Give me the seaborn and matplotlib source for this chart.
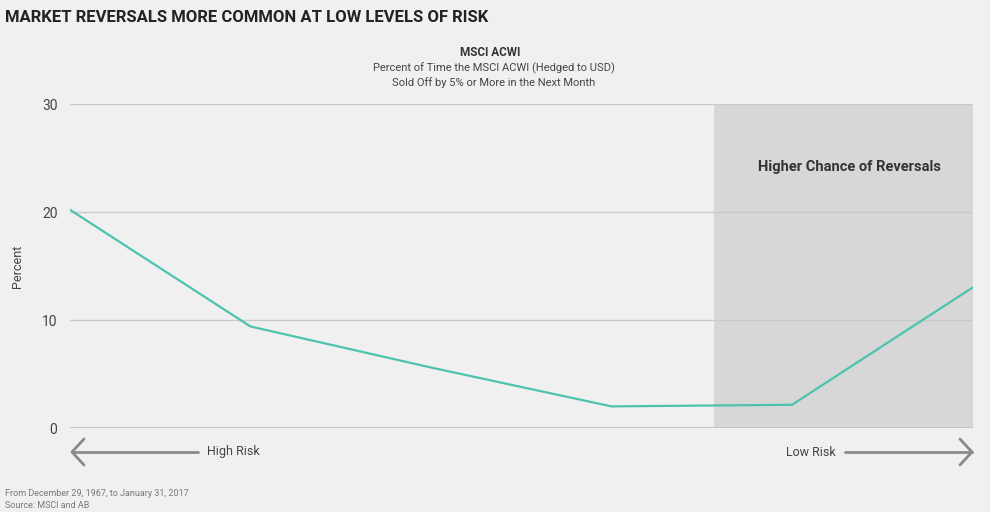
import pandas as pd
import seaborn as sns
import matplotlib.pyplot as plt

# values
steps = [0, 1, 2, 3, 4, 5]
pct_sold_off = [20.2, 9.4, 5.6, 2.0, 2.15, 13.0]
y_ticks = [0, 10, 20, 30]
shade_from = 3.57

data = pd.DataFrame({'step': steps, 'pct': pct_sold_off})

sns.set_theme(style='white')
plt.rcParams['font.family'] = ['Roboto', 'DejaVu Sans']

bg = '#f0f0f0'
fig = plt.figure(figsize=(9.9, 5.12), dpi=100, facecolor=bg)
ax = fig.add_axes([70/990, 1-428/512, (972.5-70)/990, (428-104)/512])
ax.set_facecolor(bg)

ax.axvspan(shade_from, 5, color='#d7d7d7', zorder=0, lw=0)
for v in y_ticks[1:]:
    ax.axhline(v, color='#cacaca', lw=1, zorder=1)
ax.axhline(0, color='#c6c6c6', lw=2.2, zorder=1)

sns.lineplot(x='step', y='pct', data=data, color='#4cc3ae', lw=1.6, ax=ax, zorder=3)

ax.set_xlim(0, 5)
ax.set_ylim(0, 30)
ax.set_xticks([])
ax.set_yticks(y_ticks)
ax.set_yticklabels([str(v) for v in y_ticks], fontsize=10, color='#444444')
ax.tick_params(axis='y', length=0, pad=9)
ax.set_xlabel('')
ax.set_ylabel('Percent', fontsize=9, color='#444444', labelpad=13)
for s in ax.spines.values():
    s.set_visible(False)

ax.text(4.32, 24.2, 'Higher Chance of Reversals', ha='center', va='center',
        fontsize=10.5, fontweight='bold', color='#333333')

# risk arrows under the axis
arrow_y = 452
def px(x, y):
    return x/990, 1-y/512
for x0, x1, hx in [(198, 72, 72), (845, 972, 972)]:
    fig.add_artist(plt.Line2D([px(x0, 0)[0], px(x1, 0)[0]], [px(0, arrow_y)[1]]*2,
                              color='#8a8a8a', lw=2))
    d = 12 if hx == 72 else -12
    fig.add_artist(plt.Line2D([px(hx+d, 0)[0], px(hx, 0)[0], px(hx+d, 0)[0]],
                              [px(0, arrow_y-13)[1], px(0, arrow_y)[1], px(0, arrow_y+13)[1]],
                              color='#8a8a8a', lw=2))
fig.text(*px(207, arrow_y), 'High Risk', ha='left', va='center', fontsize=9, color='#444444')
fig.text(*px(836, arrow_y), 'Low Risk', ha='right', va='center', fontsize=9, color='#444444')

fig.text(*px(5, 17), 'MARKET REVERSALS MORE COMMON AT LOW LEVELS OF RISK', ha='left', va='center',
         fontsize=12, fontweight='bold', color='#222222')
fig.text(*px(490, 52), 'MSCI ACWI', ha='center', va='center', fontsize=8.5,
         fontweight='bold', color='#333333')
fig.text(*px(494, 68), 'Percent of Time the MSCI ACWI (Hedged to USD)', ha='center', va='center',
         fontsize=8, color='#444444')
fig.text(*px(494, 83), 'Sold Off by 5% or More in the Next Month', ha='center', va='center',
         fontsize=8, color='#444444')

fig.text(*px(5, 493), 'From December 29, 1967, to January 31, 2017', ha='left', va='center',
         fontsize=6.5, color='#7a7a7a')
fig.text(*px(5, 506), 'Source: MSCI and AB', ha='left', va='center', fontsize=6.5, color='#7a7a7a')

fig.savefig('out.png', dpi=100, facecolor=bg)
